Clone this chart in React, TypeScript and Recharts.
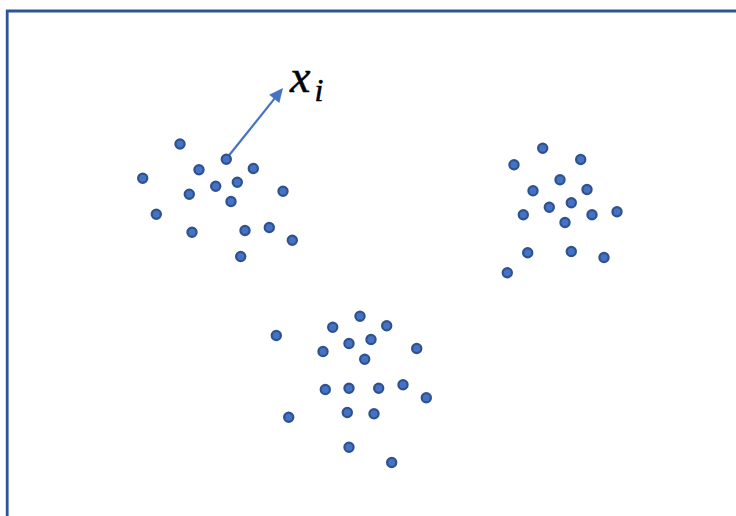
import React from 'react';
import { ScatterChart, Scatter, XAxis, YAxis, ReferenceLine, ReferenceDot } from 'recharts';

const clusterA = [
  { x: 180, y: 143.5 }, { x: 226.3, y: 158.7 }, { x: 199, y: 169.3 }, { x: 253.3, y: 168 },
  { x: 142.7, y: 177.7 }, { x: 215.7, y: 185.7 }, { x: 237.3, y: 181.7 }, { x: 189.3, y: 193.7 },
  { x: 283, y: 190.7 }, { x: 231, y: 201 }, { x: 156.3, y: 213.7 }, { x: 192, y: 231.7 },
  { x: 245, y: 230 }, { x: 269.3, y: 227 }, { x: 292.3, y: 239.7 }, { x: 240.7, y: 256 },
];
const clusterB = [
  { x: 542.7, y: 147.7 }, { x: 514, y: 164.3 }, { x: 580.7, y: 159 }, { x: 560, y: 179.3 },
  { x: 533, y: 190.3 }, { x: 587, y: 189 }, { x: 549.3, y: 206.7 }, { x: 571.3, y: 202.3 },
  { x: 523.3, y: 214.3 }, { x: 592, y: 214.3 }, { x: 617, y: 211.3 }, { x: 565, y: 222 },
  { x: 527.7, y: 252.3 }, { x: 571.3, y: 251 }, { x: 604, y: 257 }, { x: 507.3, y: 272.3 },
];
const clusterC = [
  { x: 360, y: 315.7 }, { x: 332.7, y: 326.7 }, { x: 386.7, y: 325.3 }, { x: 276.3, y: 335 },
  { x: 349, y: 343 }, { x: 371, y: 339 }, { x: 323, y: 351 }, { x: 416.7, y: 348 },
  { x: 364.7, y: 358.7 }, { x: 325.3, y: 389 }, { x: 349, y: 387.7 }, { x: 378.7, y: 387.7 },
  { x: 403, y: 384.3 }, { x: 426.3, y: 397.3 }, { x: 288.7, y: 416.7 }, { x: 347.3, y: 412 },
  { x: 374, y: 413.3 }, { x: 349, y: 446.7 }, { x: 391.7, y: 462 },
];

const arrowFrom = { x: 226.3, y: 158.7 };
const arrowTip = { x: 283, y: 88 };
const labelMain = 'x';
const labelSub = 'i';
const labelPos = { x: 290, y: 92 };

const W = 736;
const H = 516;

const dx = arrowTip.x - arrowFrom.x;
const dy = arrowTip.y - arrowFrom.y;
const len = Math.sqrt(dx * dx + dy * dy);
const ux = dx / len;
const uy = dy / len;
const headLen = 14;
const headHalf = 6.5;
const shaftEnd = { x: arrowTip.x - ux * (headLen - 2), y: arrowTip.y - uy * (headLen - 2) };

const Dot = (props: any) => {
  const { cx, cy } = props;
  return <circle cx={cx} cy={cy + 0.5} r={4.6} fill="#4472C4" stroke="#2F528F" strokeWidth={2.2} />;
};

const ArrowHead = (props: any) => {
  const { cx, cy } = props;
  const bx = cx - ux * headLen;
  const by = cy - uy * headLen;
  const nx = -uy;
  const ny = ux;
  const pts = `${cx},${cy} ${bx + nx * headHalf},${by + ny * headHalf} ${bx - nx * headHalf},${by - ny * headHalf}`;
  return <polygon points={pts} fill="#4472C4" />;
};

const Label = (props: any) => {
  const { cx, cy } = props;
  return (
    <text x={cx} y={cy} fontFamily="'Liberation Serif', 'DejaVu Serif', serif" fontStyle="italic" fill="#000" stroke="#000" strokeWidth={0.5}>
      <tspan fontSize={46}>{labelMain}</tspan>
      <tspan fontSize={32} dx={4} dy={9}>{labelSub}</tspan>
    </text>
  );
};

export default function App() {
  return (
    <div style={{ position: 'absolute', left: 0, top: 0, width: W, height: H, background: '#fff' }}>
      <ScatterChart width={W} height={H} margin={{ top: 0, right: 0, bottom: 0, left: 0 }}>
        <XAxis type="number" dataKey="x" domain={[0, W]} hide allowDataOverflow />
        <YAxis type="number" dataKey="y" domain={[0, H]} reversed hide allowDataOverflow />
        <ReferenceLine segment={[{ x: 6, y: 11 }, { x: W, y: 11 }]} stroke="#2F5597" strokeWidth={2.8} ifOverflow="visible" />
        <ReferenceLine segment={[{ x: 7.2, y: 10 }, { x: 7.2, y: H }]} stroke="#2F5597" strokeWidth={2.8} ifOverflow="visible" />
        <ReferenceLine segment={[arrowFrom, shaftEnd]} stroke="#4472C4" strokeWidth={2.2} ifOverflow="visible" />
        <ReferenceDot x={arrowTip.x} y={arrowTip.y} shape={ArrowHead} ifOverflow="visible" />
        <ReferenceDot x={labelPos.x} y={labelPos.y} shape={Label} ifOverflow="visible" />
        <Scatter data={clusterA} shape={Dot} isAnimationActive={false} />
        <Scatter data={clusterB} shape={Dot} isAnimationActive={false} />
        <Scatter data={clusterC} shape={Dot} isAnimationActive={false} />
      </ScatterChart>
    </div>
  );
}
